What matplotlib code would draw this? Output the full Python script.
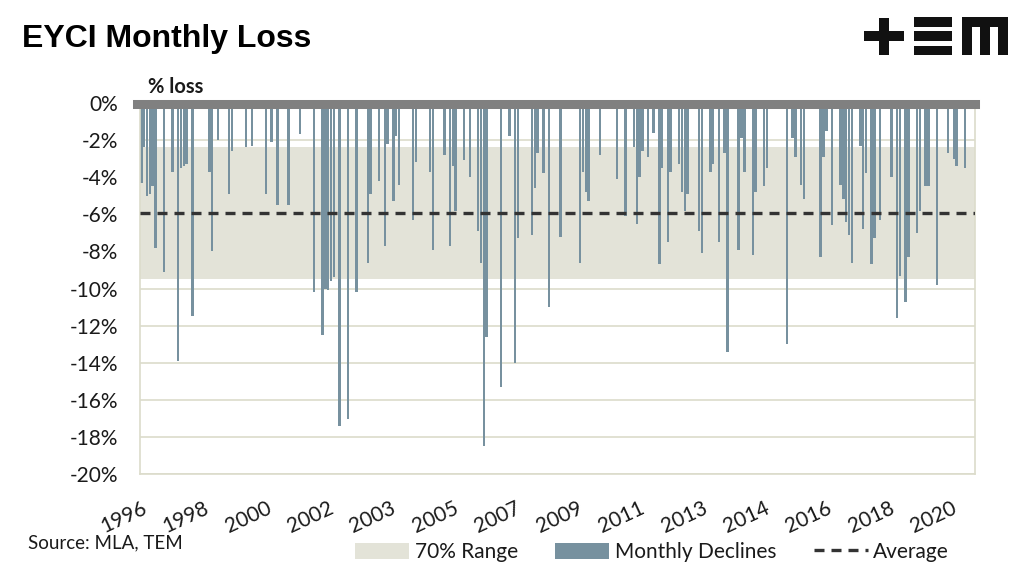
import numpy as np
import matplotlib.pyplot as plt
from matplotlib.patches import Rectangle, Patch
from matplotlib.lines import Line2D

plt.rcParams['font.family'] = ['Lato', 'DejaVu Sans']

# monthly EYCI declines (%), Jul-1996 onwards, 0 = no decline that month
monthly_loss = [
    -4.3, -2.4, -5.0, -4.9, -4.5, -7.8,                                  # 1996 H2
    0, 0, -9.1, 0, 0, -3.7, 0, -13.9, -3.5, -3.4, -3.3, 0,              # 1997
    -11.5, 0, 0, 0, 0, 0, -3.7, -8.0, 0, -2.0, 0, 0,                    # 1998
    0, -4.9, -2.6, 0, 0, 0, 0, -2.4, 0, -2.3, 0, 0,                     # 1999
    0, 0, -4.9, 0, -2.1, 0, -5.5, 0, 0, 0, -5.5, 0,                     # 2000
    0, 0, -1.7, 0, 0, 0, 0, -10.2, 0, 0, -12.5, -10.0,                  # 2001
    -10.1, -9.6, -9.4, 0, -17.4, 0, 0, -17.0, 0, 0, -10.2, 0,           # 2002
    0, 0, -8.6, -4.9, 0, 0, -4.2, 0, -7.7, -2.2, 0, -5.3,               # 2003
    -1.8, -4.4, 0, 0, 0, 0, -6.3, -3.2, 0, 0, 0, 0,                     # 2004
    -3.7, -7.9, 0, 0, 0, -2.8, 0, -7.7, -3.4, -5.8, 0, 0,               # 2005
    -3.1, 0, -4.0, 0, 0, -6.9, -8.6, -18.5, -12.6, 0, 0, 0,             # 2006
    0, -15.3, 0, 0, -1.8, 0, -14.0, -7.3, 0, 0, 0, 0,                   # 2007
    -7.1, -4.6, -2.7, 0, -3.8, 0, -11.0, 0, 0, 0, -7.2, 0,              # 2008
    0, 0, 0, 0, 0, -8.6, -3.7, -4.8, -5.3, 0, 0, 0,                     # 2009
    -2.8, 0, 0, 0, 0, 0, -4.1, 0, 0, -6.1, 0, 0,                        # 2010
    -2.4, -6.5, -4.0, -2.6, 0, -2.9, 0, -1.6, 0, -8.7, -3.5, 0,         # 2011
    -7.5, -3.7, 0, 0, -3.3, -4.8, -5.8, -4.9, 0, 0, 0, -6.9,            # 2012
    -8.1, 0, 0, -3.7, -3.3, 0, -7.5, 0, -2.7, -13.4, 0, 0,              # 2013
    0, -7.9, -1.9, -3.7, 0, 0, -8.2, -4.8, 0, 0, -4.5, -3.5,            # 2014
    0, 0, 0, 0, 0, 0, -13.0, 0, -1.9, -2.9, 0, -4.4,                    # 2015
    -5.2, 0, 0, 0, 0, 0, -8.3, -2.9, -1.5, 0, -6.6, 0,                  # 2016
    0, -4.4, -5.2, -6.4, -7.1, -8.6, 0, 0, -2.3, -6.8, -3.8, 0,         # 2017
    -8.7, -7.3, 0, -6.3, 0, 0, 0, -4.0, 0, -11.6, -9.3, 0,              # 2018
    -10.7, -8.3, 0, 0, -7.0, -5.8, 0, -4.5, -4.5, 0, 0, -9.8,           # 2019
    0, 0, 0, -2.7, 0, -3.0, -3.4, 0, 0, -3.5, 0, 0,                     # 2020
    0,                                                                   # 2021
]
average_loss = -5.95
range_top = -2.35
range_bottom = -9.5

year_labels = ['1996', '1998', '2000', '2002', '2003', '2005', '2007',
               '2009', '2011', '2013', '2014', '2016', '2018', '2020']
label_every = 22  # months between axis labels
y_ticks = list(range(-20, 1, 2))

BAR_COLOR = '#77919f'
RANGE_COLOR = '#e3e3d8'
GRID_COLOR = '#dcdccb'
AXIS_GRAY = '#808080'
TEXT = '#1a1a1a'

W, H = 1024, 570
fig = plt.figure(figsize=(W / 100, H / 100), dpi=100)
ax = fig.add_axes([140 / W, 1 - 474.3 / H, 835 / W, (474.3 - 102.9) / H])

months = np.arange(len(monthly_loss))
ax.axhspan(range_bottom, range_top, color=RANGE_COLOR, lw=0, zorder=1)
ax.bar(months, monthly_loss, width=0.88, color=BAR_COLOR, lw=0, zorder=2)
ax.axhline(average_loss, color='#333333', lw=2.4, ls=(0, (3, 2.1)), zorder=4)
ax.axhline(-0.08, xmin=-0.003, color=AXIS_GRAY, lw=6.5, zorder=5, clip_on=False)

ax.set_xlim(-0.5, len(monthly_loss) - 0.5)
ax.set_ylim(-20, 0)
ax.set_yticks(y_ticks, [f'{v}%' for v in y_ticks])
ax.yaxis.grid(True, color=GRID_COLOR, lw=1.2)
ax.set_axisbelow(True)
ax.set_xticks(np.arange(len(year_labels)) * label_every, year_labels,
              rotation=25, ha='right', rotation_mode='anchor')
ax.tick_params(axis='both', length=0, labelsize=15, labelcolor=TEXT)
ax.tick_params(axis='y', pad=16)
ax.tick_params(axis='x', pad=17)
for s in ['left', 'bottom', 'right']:
    ax.spines[s].set_color(GRID_COLOR)
    ax.spines[s].set_linewidth(1.2)
ax.spines['top'].set_visible(False)

fig.text(22 / W, 1 - 47 / H, 'EYCI Monthly Loss', family='Liberation Sans',
         fontweight='bold', fontsize=23, color='black', va='baseline')
fig.text(148 / W, 1 - 93 / H, '% loss', fontweight='bold', fontsize=14.5,
         color=TEXT, va='baseline')
fig.text(28 / W, 1 - 548 / H, 'Source: MLA, TEM', fontsize=13.5,
         color=TEXT, va='baseline')

# TEM logo drawn from blocks (pixel boxes: x0, x1, y0, y1)
logo = [(864, 904, 31.5, 40.5), (879, 889, 17.5, 55),
        (914, 952, 17.5, 26.5), (914, 952, 31.5, 40.5), (914, 952, 46, 55),
        (962, 1008, 17.5, 26.5), (962, 972, 17.5, 55), (980, 990, 17.5, 55),
        (998, 1008, 17.5, 55)]
for x0, x1, y0, y1 in logo:
    fig.add_artist(Rectangle((x0 / W, 1 - y1 / H), (x1 - x0) / W, (y1 - y0) / H,
                             transform=fig.transFigure, color='#111111', lw=0))

handles = [Patch(facecolor=RANGE_COLOR), Patch(facecolor=BAR_COLOR),
           Line2D([], [], color='#333333', lw=2.4, ls=(0, (3, 2.1)))]
fig.legend(handles, ['70% Range', 'Monthly Declines', 'Average'],
           loc='center', bbox_to_anchor=(652 / W, 1 - 552 / H), ncol=3,
           frameon=False, fontsize=15, handlelength=2.6, handleheight=0.82,
           handletextpad=0.25, columnspacing=1.8, borderpad=0, borderaxespad=0,
           labelcolor=TEXT)

fig.savefig('out.png', dpi=100)
